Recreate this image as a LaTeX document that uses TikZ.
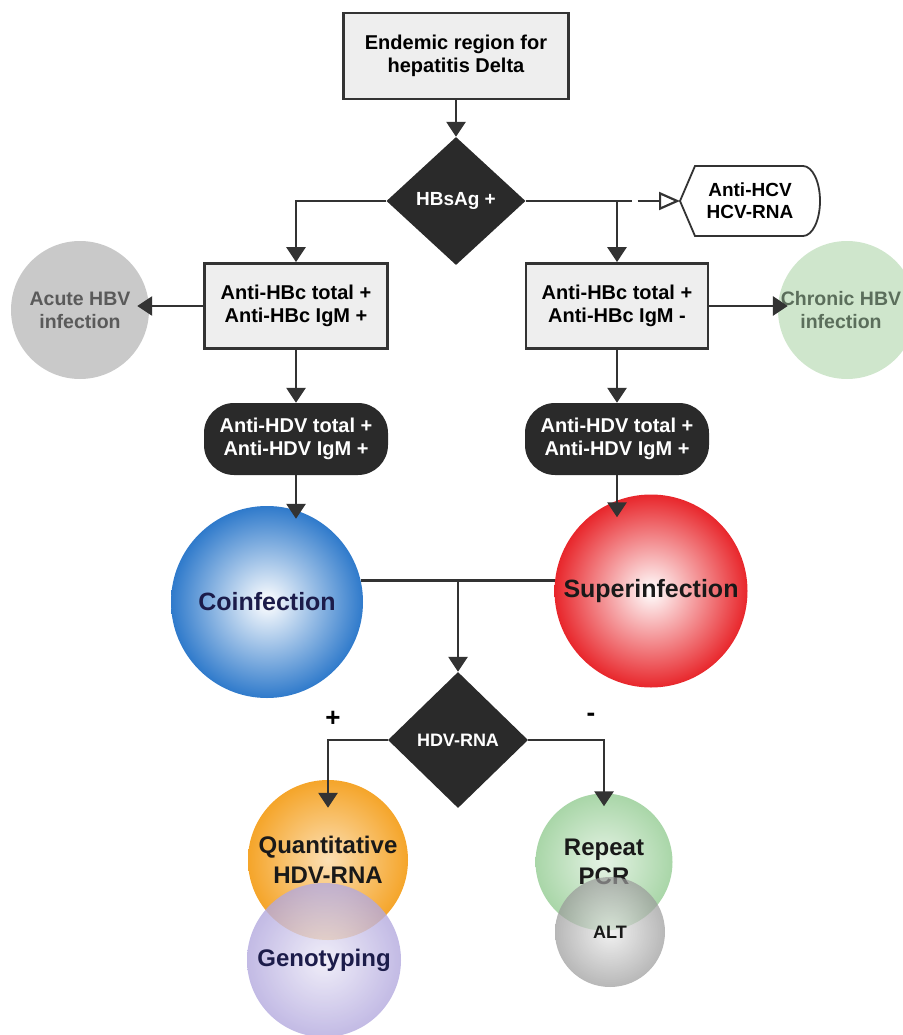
\documentclass[tikz,border=0pt]{standalone}
\usepackage{fontspec}
\setmainfont{Liberation Sans}
\usetikzlibrary{shapes.geometric,arrows.meta}
\definecolor{lnc}{HTML}{333333}
\definecolor{boxfill}{HTML}{EEEEEE}
\definecolor{dk}{HTML}{2A2A2A}
\definecolor{acutec}{HTML}{C9C9C9}
\definecolor{acutet}{HTML}{5A5A5A}
\definecolor{chronc}{HTML}{CFE6CC}
\definecolor{chront}{HTML}{5B6E5B}
\definecolor{coinc}{HTML}{2F7ACB}
\definecolor{supc}{HTML}{E8262B}
\definecolor{orc}{HTML}{F5A52A}
\definecolor{purc}{HTML}{B3A9DE}
\definecolor{grc}{HTML}{A9D6A8}
\definecolor{altc}{HTML}{999999}
\definecolor{navy}{HTML}{1C1C4A}
\begin{document}
\begin{tikzpicture}[x=1pt,y=-1pt,font=\bfseries,
  arr/.style={draw=lnc,line width=2.8pt,-{Triangle[width=19pt,length=15pt]}},
  plain/.style={draw=lnc,line width=2.8pt},
  graybox/.style={rectangle,draw=lnc,line width=2.8pt,fill=boxfill,align=center,
     font=\bfseries\fontsize{20}{23}\selectfont,inner sep=0pt},
  pill/.style={rectangle,rounded corners=30pt,fill=dk,text=white,align=center,
     minimum width=184pt,minimum height=72pt,inner sep=0pt,
     font=\bfseries\fontsize{20}{23}\selectfont},
  dia/.style={diamond,fill=dk,text=white,inner sep=0pt},
  bubble/.style={circle,inner sep=0pt,align=center,
     font=\bfseries\fontsize{25}{30}\selectfont},
  side/.style={circle,inner sep=0pt,align=center,minimum size=138pt,
     font=\bfseries\fontsize{19.5}{23}\selectfont}
]
\useasboundingbox (0,0) rectangle (902,1035);

% top box
\node[graybox,minimum width=225pt,minimum height=86pt] (endemic) at (456,56)
  {Endemic region for\\hepatitis Delta};

% HBsAg diamond
\node[dia,minimum width=139pt,minimum height=128pt,
  font=\bfseries\fontsize{19}{22}\selectfont] (hbs) at (456,201) {HBsAg +};

% HCV display shape
\coordinate (hcvtip) at (680,201);
\draw[draw=lnc,line width=1.8pt,fill=white] (hcvtip) -- (695,166) -- (803,166)
  arc[start angle=-90,end angle=90,x radius=17,y radius=35] -- (695,236) -- cycle;
\node[align=center,font=\bfseries\fontsize{19}{22}\selectfont] (hcv) at (750,201)
  {Anti-HCV\\HCV-RNA};

% boxes
\node[graybox,minimum width=183pt,minimum height=85pt] (b1) at (296,306)
  {Anti-HBc total +\\Anti-HBc IgM +};
\node[graybox,minimum width=182pt,minimum height=85pt] (b2) at (617,306)
  {Anti-HBc total +\\Anti-HBc IgM -};

% side circles
\node[side,fill=acutec,text=acutet] (acute) at (80,310) {Acute HBV\\infection};
\node[side,fill=chronc] (chron) at (847,310) {};
\node[align=center,text=chront,font=\bfseries\fontsize{19.5}{23}\selectfont]
  (chront) at (841,310) {Chronic HBV\\infection};

% pills
\node[pill] (p1) at (296,439) {Anti-HDV total +\\Anti-HDV IgM +};
\node[pill] (p2) at (617,439) {Anti-HDV total +\\Anti-HDV IgM +};

% infection circles
\node[bubble,minimum size=192pt,inner color=white,outer color=coinc,text=navy]
  (coin) at (267,602) {Coinfection};
\node[bubble,minimum size=193pt,inner color=white,outer color=supc,text=black!90]
  (sup) at (651,591) {Superinfection};

% HDV-RNA diamond
\node[dia,minimum width=140pt,minimum height=136pt,
  font=\bfseries\fontsize{18}{20}\selectfont] (hdv) at (458,740) {HDV-RNA};

\node[font=\bfseries\fontsize{26}{26}\selectfont] (plus) at (333,719) {+};
\node[font=\bfseries\fontsize{26}{26}\selectfont] (minus) at (591,717) {-};

% bottom circles
\node[bubble,minimum size=160pt,inner color=orc!35,outer color=orc,text=black!90,
  font=\bfseries\fontsize{24}{30}\selectfont] (qnt) at (328,860) {Quantitative\\HDV-RNA};
\node[bubble,minimum size=154pt,inner color=purc!25,outer color=purc,fill opacity=0.8,
  text opacity=1,text=navy,font=\bfseries\fontsize{24}{28}\selectfont]
  (geno) at (324,960) {Genotyping};
\node[bubble,minimum size=137pt,inner color=grc!30,outer color=grc,text=black!90,
  font=\bfseries\fontsize{24}{29}\selectfont] (rep) at (604,862) {Repeat\\PCR};
\node[bubble,minimum size=110pt,inner color=altc!20,outer color=altc,fill opacity=0.7,
  text opacity=1,text=black!90,font=\bfseries\fontsize{18}{20}\selectfont]
  (alt) at (610,932) {ALT};

% connectors
\draw[arr] (endemic.south) -- (hbs.north);
\draw[arr] (hbs.west) -| (b1.north);
\coordinate (j1) at (b2.north |- hbs.east);
\draw[draw=lnc,line width=2.8pt,dash pattern=on 106pt off 6pt on 100pt,
  -{Triangle[open,width=18pt,length=21pt,line width=2.2pt]}] (hbs.east) -- (hcvtip);
\draw[arr] (j1) -- (b2.north);
\draw[arr,shorten >=-12pt] (b1.west) -- (b1.west -| acute.east);
\draw[arr,shorten >=-10pt] (b2.east) -- (b2.east -| chron.west);
\draw[arr] (b1.south) -- (p1.north);
\draw[arr] (b2.south) -- (p2.north);
\draw[arr,shorten >=-13pt] (p1.south) -- (p1.south |- coin.north);
\draw[arr,shorten >=-23pt] (p2.south) -- (p2.south |- sup.north);
\draw[plain] (coin.13) -- (coin.13 -| sup.173);
\coordinate (j2) at (hdv.north |- coin.13);
\draw[arr] (j2) -- (hdv.north);
\draw[arr] (hdv.west) -| ([yshift=-28pt]qnt.north);
\draw[arr] (hdv.east) -| ([yshift=-13pt]rep.north);
\end{tikzpicture}
\end{document}
